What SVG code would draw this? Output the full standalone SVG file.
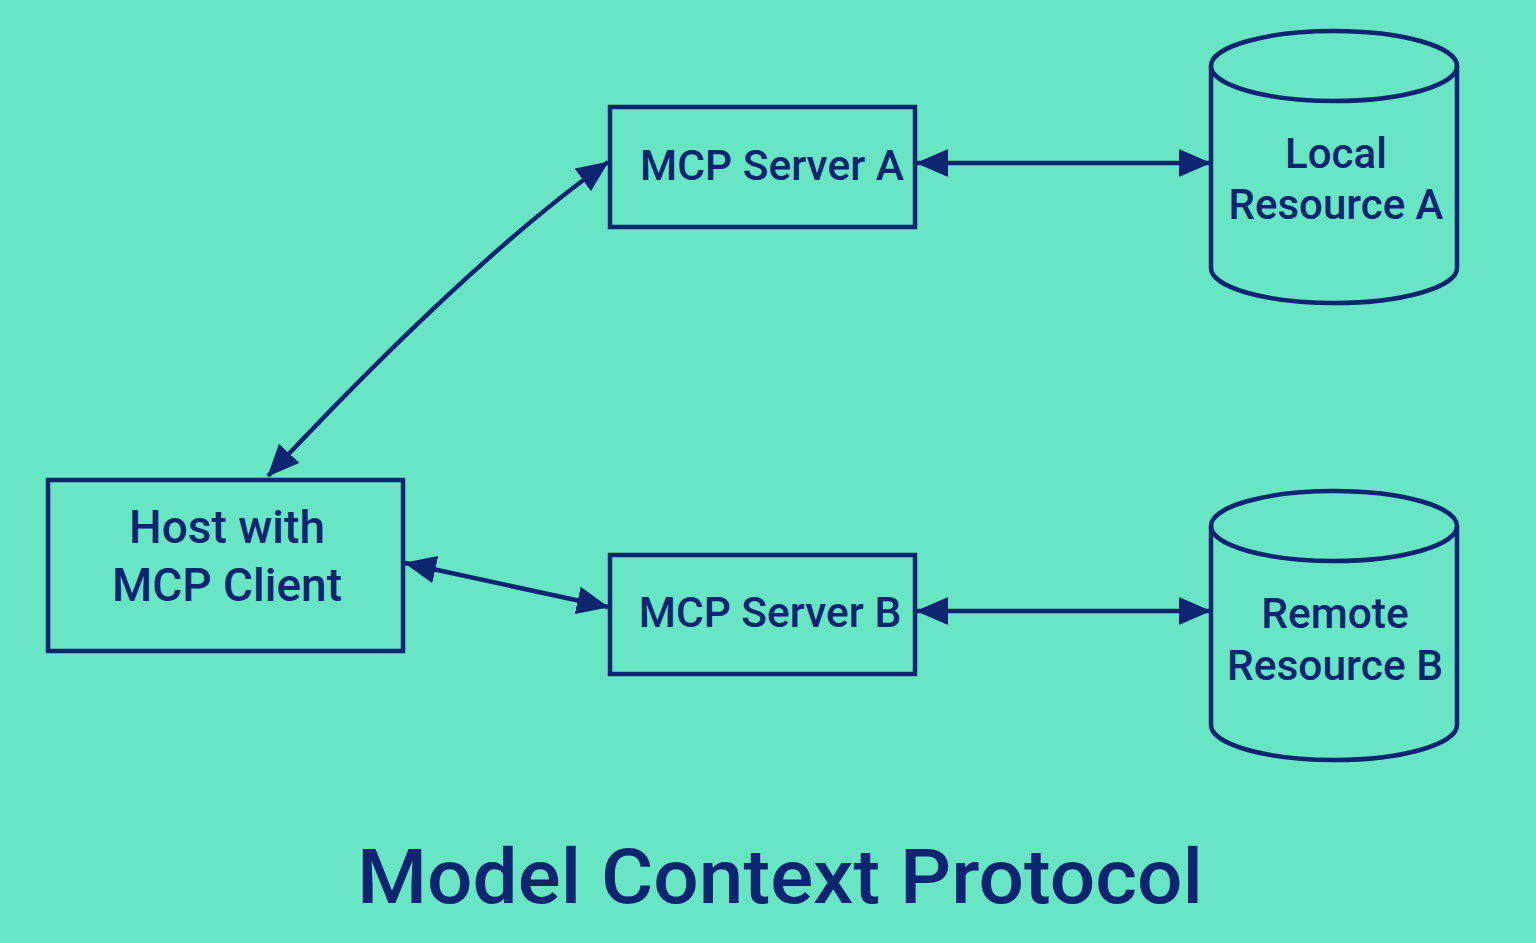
<svg xmlns="http://www.w3.org/2000/svg" width="1536" height="943" viewBox="0 0 1536 943">
<defs>
<marker id="ah" markerUnits="userSpaceOnUse" markerWidth="32" markerHeight="28" viewBox="0 0 32 28" refX="31" refY="14" orient="auto-start-reverse">
<path d="M0,0 L32,14 L0,28 Z" fill="#0D2470"/>
</marker>
<style>
.box{fill:none;stroke:#0D2470;stroke-width:4.5}
.lbl{font-family:Roboto,"Liberation Sans",sans-serif;font-weight:500;fill:#0D2470;text-anchor:middle}
.con{fill:none;stroke:#0D2470;stroke-width:4.5;marker-start:url(#ah);marker-end:url(#ah)}
</style>
</defs>
<rect width="1536" height="943" fill="#68E6C3"/>
<g id="connectors">
<path class="con" d="M268,476 Q470,260 608,162"/>
<path class="con" d="M405,563 L608,607"/>
<path class="con" d="M917,163 L1210,163"/>
<path class="con" d="M917,611 L1210,611"/>
</g>
<g id="serverA">
<rect class="box" x="610" y="107" width="305" height="120"/>
<text class="lbl" x="772" y="180" font-size="42.5">MCP Server A</text>
</g>
<g id="serverB">
<rect class="box" x="610" y="555" width="305" height="119"/>
<text class="lbl" x="770" y="627" font-size="42.5">MCP Server B</text>
</g>
<g id="host">
<rect class="box" x="48" y="480" width="355" height="171"/>
<text class="lbl" x="227" y="543" font-size="46">Host with</text>
<text class="lbl" x="227" y="601" font-size="46">MCP Client</text>
</g>
<g id="resourceA">
<path class="box" d="M1211,66 L1211,268 A123,35 0 0 0 1457,268 L1457,66"/>
<ellipse class="box" cx="1334" cy="66" rx="123" ry="35"/>
<text class="lbl" x="1336" y="168" font-size="42">Local</text>
<text class="lbl" x="1336" y="219" font-size="42">Resource A</text>
</g>
<g id="resourceB">
<path class="box" d="M1211,526 L1211,725 A123,35 0 0 0 1457,725 L1457,526"/>
<ellipse class="box" cx="1334" cy="526" rx="123" ry="35"/>
<text class="lbl" x="1335" y="628" font-size="42.5">Remote</text>
<text class="lbl" x="1335" y="680" font-size="42.5">Resource B</text>
</g>
<g id="title">
<text class="lbl" x="780" y="903" font-size="76" textLength="846" lengthAdjust="spacingAndGlyphs">Model Context Protocol</text>
</g>
</svg>
